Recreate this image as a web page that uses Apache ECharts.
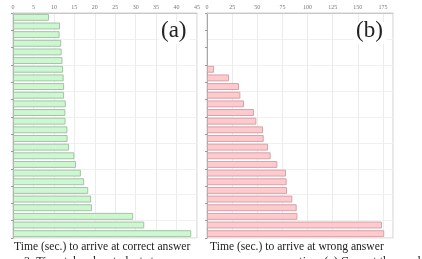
<!DOCTYPE html>
<html><head><meta charset="utf-8">
<script src="https://cdn.jsdelivr.net/npm/echarts@6/dist/echarts.min.js"></script>
<style>html,body{margin:0;padding:0;background:#fff}#c{width:422px;height:259px}</style>
</head><body><div id="c"></div>
<script>
var categories = ['1','2','3','4','5','6','7','8','9','10','11','12','13','14','15','16','17','18','19','20','21','22','23','24','25','26'];
var correctTimes = [8.8,11.5,11.4,11.8,11.9,12.1,12.25,12.4,12.5,12.5,12.9,12.8,12.85,13.3,13.35,13.7,15.0,15.4,16.6,17.4,18.4,19.1,19.3,29.4,32.1,43.6];
var wrongTimes = [null,null,null,null,null,null,7.0,21.9,31.8,33.2,36.8,46.7,49.1,55.7,56.4,60.7,63.3,70.0,78.6,79.2,79.6,84.9,89.2,89.9,174.0,176.3];
var correctTicks = {min:0,max:45,interval:5};
var wrongTicks = {min:0,max:185,interval:25};

var chart = echarts.init(document.getElementById('c'), null, {renderer:'canvas'});
var serif = 'Liberation Serif';
function xAx(idx, t){
  return {gridIndex:idx,type:'value',position:'top',min:t.min,max:t.max,interval:t.interval,
    axisLine:{show:true,lineStyle:{color:'#c8c8c8',width:1}},
    axisTick:{show:false},
    axisLabel:{fontFamily:serif,fontSize:6,color:'#777',margin:3,showMaxLabel:t.max%t.interval===0},
    splitLine:{show:true,lineStyle:{color:'#ececec',width:1}}};
}
function yAx(idx){
  return {gridIndex:idx,type:'category',data:categories,inverse:true,
    axisLine:{show:true,lineStyle:{color:'#a8a8a8'}},
    axisTick:{show:true,length:2,interval:1,lineStyle:{color:'#999'}},
    axisLabel:{show:false},
    splitLine:{show:true,interval:2,lineStyle:{color:'#f0f0f0'}}};
}
chart.setOption({
  animation:false,
  grid:[
    {left:13,top:13,width:184,height:225,show:true,borderColor:'#cfcfcf',borderWidth:1},
    {left:207,top:13,width:186,height:225,show:true,borderColor:'#cfcfcf',borderWidth:1}
  ],
  xAxis:[xAx(0,correctTicks),xAx(1,wrongTicks)],
  yAxis:[yAx(0),yAx(1)],
  series:[
    {type:'bar',xAxisIndex:0,yAxisIndex:0,data:correctTimes,barCategoryGap:'20%',
     itemStyle:{color:'#ccf7d0',borderColor:'#a5c2a7',borderWidth:1}},
    {type:'bar',xAxisIndex:1,yAxisIndex:1,data:wrongTimes,barCategoryGap:'20%',
     itemStyle:{color:'#ffc9cd',borderColor:'#d3a4a8',borderWidth:1}}
  ],
  graphic:[
    {type:'rect',z:100,left:159,top:22,shape:{width:31,height:22},style:{fill:'#fff'}},
    {type:'rect',z:100,left:354,top:22,shape:{width:33,height:22},style:{fill:'#fff'}},
    {type:'text',z:101,left:161,top:19,style:{text:'(a)',font:'23px "Liberation Serif"',fill:'#222'}},
    {type:'text',z:101,left:356,top:19,style:{text:'(b)',font:'23px "Liberation Serif"',fill:'#222'}},
    {type:'text',left:14,top:241,style:{text:'Time (sec.) to arrive at correct answer',font:'11.6px "Liberation Serif"',fill:'#222'}},
    {type:'text',left:210,top:241,style:{text:'Time (sec.) to arrive at wrong answer',font:'11.6px "Liberation Serif"',fill:'#222'}},
    {type:'line',shape:{x1:236,y1:238.5,x2:286,y2:238.5},style:{stroke:'#666',lineWidth:1}},
    {type:'text',left:24,top:256,style:{text:'3: Time taken by students to',font:'12px "Liberation Serif"',fill:'#222'}},
    {type:'text',left:290,top:256,style:{text:'ration: (a) Correct then and (b) I',font:'12px "Liberation Serif"',fill:'#222'}}
  ]
});
</script></body></html>
